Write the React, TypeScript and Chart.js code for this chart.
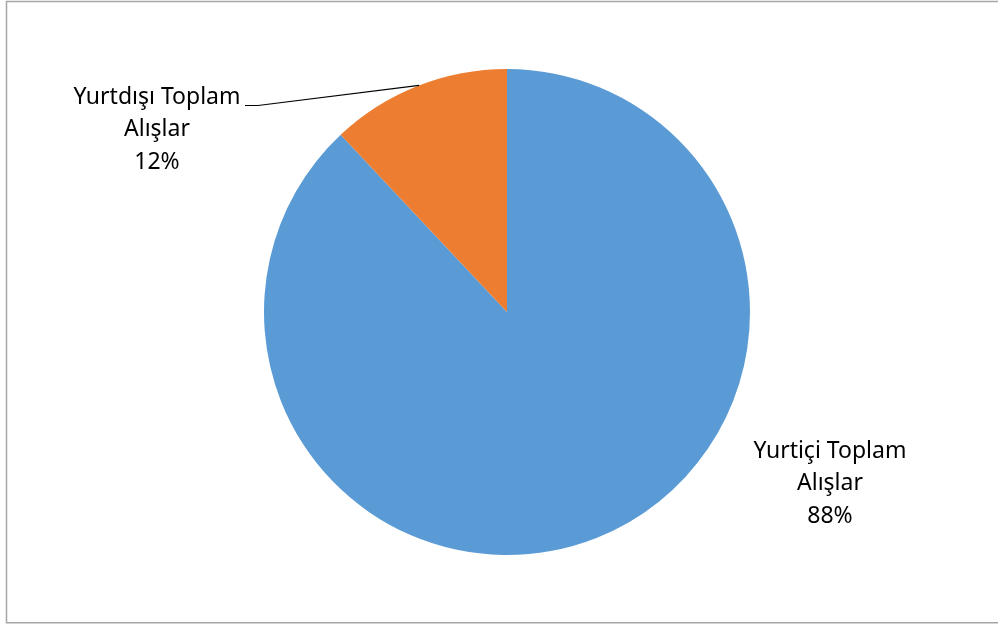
import React, { useEffect, useRef } from "react";
import { Chart, registerables } from "chart.js";

Chart.register(...registerables);

const categories = ["Yurtiçi Toplam Alışlar", "Yurtdışı Toplam Alışlar"];
const labelLines = [
  ["Yurtiçi Toplam", "Alışlar"],
  ["Yurtdışı Toplam", "Alışlar"],
];
const values = [88, 12];
const colors = ["#5B9BD5", "#ED7D31"];

const FONT = "23px 'Noto Sans', 'Open Sans', sans-serif";

const framePlugin = {
  id: "frame",
  beforeDraw(chart: any) {
    const ctx = chart.ctx;
    ctx.save();
    ctx.fillStyle = "#ffffff";
    ctx.fillRect(0, 0, chart.width, chart.height);
    ctx.strokeStyle = "#a6a6a6";
    ctx.lineWidth = 1.5;
    ctx.beginPath();
    ctx.moveTo(1100, 1.5);
    ctx.lineTo(6.5, 1.5);
    ctx.lineTo(6.5, 622.8);
    ctx.lineTo(1100, 622.8);
    ctx.stroke();
    ctx.restore();
  },
};

const labelPlugin = {
  id: "pieLabels",
  afterDraw(chart: any) {
    const ctx = chart.ctx;
    const meta = chart.getDatasetMeta(0);
    const total = values.reduce((a, b) => a + b, 0);
    const positions = [
      { x: 830, y: 451 },
      { x: 157, y: 97 },
    ];
    ctx.save();
    ctx.font = FONT;
    ctx.fillStyle = "#000000";
    ctx.textAlign = "center";
    ctx.textBaseline = "middle";
    values.forEach((v, i) => {
      const p = positions[i];
      const lines = [...labelLines[i], Math.round((v / total) * 100) + "%"];
      lines.forEach((t, j) => ctx.fillText(t, p.x, p.y + j * 32.5));
    });
    // leader line for the small slice
    const arc = meta.data[1];
    const cx = arc.x;
    const cy = arc.y;
    const r = arc.outerRadius;
    const ang = -Math.PI / 2 - 0.37;
    const ex = cx + r * Math.cos(ang);
    const ey = cy + r * Math.sin(ang);
    ctx.strokeStyle = "#000000";
    ctx.lineWidth = 1.2;
    ctx.beginPath();
    ctx.moveTo(245, 105.5);
    ctx.lineTo(258, 105.5);
    ctx.lineTo(ex, ey);
    ctx.stroke();
    ctx.restore();
  },
};

export default function App() {
  const ref = useRef<HTMLCanvasElement>(null);
  useEffect(() => {
    if (!ref.current) return;
    const chart = new Chart(ref.current, {
      type: "pie",
      data: {
        labels: categories,
        datasets: [
          {
            data: values,
            backgroundColor: colors,
            borderWidth: 0,
          },
        ],
      },
      options: {
        animation: false,
        responsive: false,
        devicePixelRatio: 1,
        layout: { padding: { top: 69, bottom: 70, left: 100, right: 84 } },
        plugins: {
          legend: { display: false },
          tooltip: { enabled: false },
        },
      },
      plugins: [framePlugin, labelPlugin],
    });
    return () => chart.destroy();
  }, []);
  return (
    <div style={{ position: "absolute", left: 0, top: 0, width: 998, height: 625 }}>
      <canvas ref={ref} width={998} height={625} style={{ width: 998, height: 625, display: "block" }} />
    </div>
  );
}
